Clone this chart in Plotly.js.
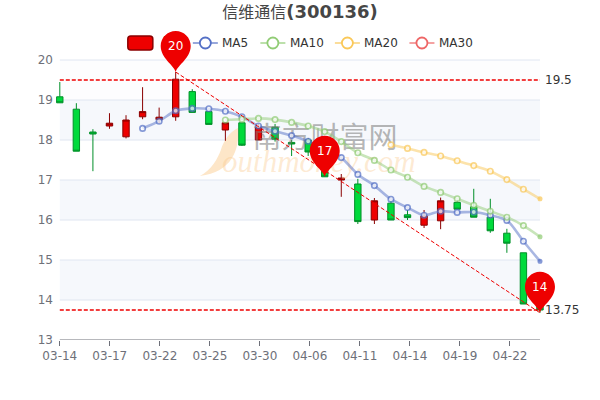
<!DOCTYPE html>
<html><head><meta charset="utf-8">
<script src="https://cdn.plot.ly/plotly-3.0.1.min.js"></script>
<style>html,body{margin:0;padding:0;background:#fff}</style></head>
<body><div id="c" style="width:600px;height:400px"></div>
<script>
const days=[...Array(30).keys()];
const openV =[19.08,18.77,18.20,18.35,18.08,18.58,18.51,18.58,19.21,18.71,18.25,18.43,18.00,18.32,17.94,18.00,17.60,17.00,16.90,16.00,16.42,16.13,15.87,15.98,16.44,16.33,16.07,15.67,15.18,13.95];
const closeV=[18.93,17.72,18.15,18.42,18.50,18.71,18.57,19.52,18.69,18.39,18.43,17.87,18.32,18.02,17.90,17.70,17.08,17.05,15.96,16.48,16.00,16.06,16.10,16.48,16.27,16.07,15.73,15.42,13.90,13.75];
const highV =[19.45,18.92,18.27,18.67,18.62,19.32,18.81,19.70,19.27,18.71,18.43,18.43,18.40,18.40,18.00,18.05,17.70,17.15,17.03,16.55,16.48,16.25,16.25,16.56,16.50,16.78,16.53,15.78,15.18,14.00];
const lowV  =[18.93,17.72,17.22,18.28,18.04,18.52,18.42,18.48,18.69,18.39,17.98,17.85,18.00,17.96,17.60,17.60,17.08,16.58,15.90,15.90,16.00,16.00,15.80,15.77,16.27,16.07,15.68,15.18,13.90,13.68];
const ma5 =[null,null,null,null,null,18.29,18.47,18.73,18.79,18.78,18.72,18.58,18.35,18.22,18.11,17.97,17.80,17.56,17.14,16.86,16.52,16.31,16.12,16.22,16.19,16.20,16.12,15.99,15.47,14.97];
const ma10=[null,null,null,null,null,null,null,null,null,null,18.50,18.52,18.54,18.51,18.44,18.35,18.21,17.96,17.68,17.49,17.25,17.07,16.84,16.69,16.53,16.37,16.22,16.07,15.86,15.58];
const ma20=[null,null,null,null,null,null,null,null,null,null,null,null,null,null,null,null,null,null,null,null,17.88,17.79,17.69,17.60,17.48,17.36,17.22,17.01,16.77,16.53];
const tickLabels=["03-14","03-17","03-22","03-25","03-30","04-06","04-11","04-14","04-19","04-22"];
const yTicks=[13,14,15,16,17,18,19,20];
const highLine=19.5, lowLine=13.75;
const pins=[{x:7,y:highV[7],t:"20"},{x:16,y:closeV[16],t:"17"},{x:29,y:lowV[29],t:"14"}];

const pxPerDay=480/29, pad=0.35;
const L=60-pad*pxPerDay, R=600, T=30;
const xd=px=>(px-60)/pxPerDay, yd=py=>20-(py-60)/40;
const shapes=[],ann=[];
[14,16,18].forEach(v=>shapes.push({type:'rect',layer:'below',xref:'x',yref:'y',x0:0,x1:29,y0:v,y1:v+1,fillcolor:'#f6f8fc',line:{width:0}}));
shapes.push({type:'rect',layer:'below',xref:'x',yref:'y',x0:0,x1:29,y0:19,y1:20,fillcolor:'#fdfdfe',line:{width:0}});
yTicks.filter(v=>v>13).forEach(v=>shapes.push({type:'line',layer:'below',xref:'x',yref:'y',x0:0,x1:29,y0:v,y1:v,line:{color:'#E0E6F1',width:1}}));
shapes.push({type:'line',xref:'x',yref:'y',x0:0,x1:29,y0:13,y1:13,line:{color:'#6E7079',width:1},layer:'below'});
// watermark swoosh
shapes.push({type:'path',layer:'below',xref:'x',yref:'y',path:`M ${xd(238)} ${yd(128)} C ${xd(240)} ${yd(150)} ${xd(232)} ${yd(172)} ${xd(200)} ${yd(176)} C ${xd(212)} ${yd(170)} ${xd(218)} ${yd(158)} ${xd(221)} ${yd(150)} C ${xd(224)} ${yd(140)} ${xd(230)} ${yd(132)} ${xd(238)} ${yd(128)} Z`,fillcolor:'#fde6c8',line:{width:0}});
// pins (pixel path, y up, anchored at the data point)
const pinPath='M 0 0 C -2 7 -15 14 -15 26 C -15 34.3 -8.3 41 0 41 C 8.3 41 15 34.3 15 26 C 15 14 2 7 0 0 Z';
pins.forEach(p=>{
 shapes.push({type:'path',layer:'above',xref:'x',yref:'y',xsizemode:'pixel',ysizemode:'pixel',xanchor:p.x,yanchor:p.y,path:pinPath,fillcolor:'#EE0000',line:{width:0}});
 ann.push({xref:'x',yref:'y',x:p.x,y:p.y,yshift:26,text:p.t,showarrow:false,font:{family:'DejaVu Sans',size:12,color:'#fff'}});
});
// legend
const pxX=x=>(x-L)/(R-L), pxY=y=>1-(y-T)/(340-T);
shapes.push({type:'path',xref:'paper',yref:'paper',path:`M ${pxX(131)} ${pxY(36)} L ${pxX(150)} ${pxY(36)} Q ${pxX(153)} ${pxY(36)} ${pxX(153)} ${pxY(39)} L ${pxX(153)} ${pxY(47)} Q ${pxX(153)} ${pxY(50)} ${pxX(150)} ${pxY(50)} L ${pxX(131)} ${pxY(50)} Q ${pxX(128)} ${pxY(50)} ${pxX(128)} ${pxY(47)} L ${pxX(128)} ${pxY(39)} Q ${pxX(128)} ${pxY(36)} ${pxX(131)} ${pxY(36)} Z`,fillcolor:'#EE0000',line:{color:'#8A0000',width:1.5},layer:'below'});
const legendItems=[["MA5",193,'#5470C6'],["MA10",260.5,'#91CC75'],["MA20",335,'#FAC858'],["MA30",409.5,'#EE6666']];
legendItems.forEach(([n,x,c])=>{
 shapes.push({type:'line',xref:'paper',yref:'paper',x0:pxX(x),x1:pxX(x+25),y0:pxY(43),y1:pxY(43),line:{color:c,width:2},opacity:.6});
 shapes.push({type:'circle',xref:'paper',yref:'paper',xsizemode:'pixel',ysizemode:'pixel',xanchor:pxX(x+12.5),yanchor:pxY(43),x0:-5.5,x1:5.5,y0:-5.5,y1:5.5,fillcolor:'#fff',line:{color:c,width:1.8}});
 ann.push({xref:'paper',yref:'paper',x:pxX(x+27.5),y:pxY(43),xanchor:'left',yanchor:'middle',showarrow:false,text:n,font:{family:'DejaVu Sans',size:12,color:'#333'}});
});
ann.push({xref:'x',yref:'y',x:29,y:highLine,xanchor:'left',xshift:3,showarrow:false,text:'19.5',font:{family:'DejaVu Sans',size:12,color:'#333'}});
ann.push({xref:'x',yref:'y',x:29,y:lowLine,xanchor:'left',xshift:3,showarrow:false,text:'13.75',font:{family:'DejaVu Sans',size:12,color:'#333'}});
const fade=(name,y,c)=>({type:'scatter',mode:'lines+markers',name,x:days,y,cliponaxis:false,
 line:{color:c+'80',width:2.6,shape:'spline',smoothing:.8},
 marker:{size:y.map((v,i)=>i===29?3.5:5.5),color:y.map((v,i)=>i===29?c:'#fff'),line:{color:c,width:1.6}},hoverinfo:'skip'});
const dash=(y0,y1,x0,x1,w)=>({type:'scatter',mode:'lines',x:[x0,x1],y:[y0,y1],line:{color:'#EE0000',width:w,dash:'4px,2px'},hoverinfo:'skip',cliponaxis:false,showlegend:false});
const data=[
 {type:'candlestick',x:days,open:openV,close:closeV,high:highV,low:lowV,whiskerwidth:0,
  increasing:{fillcolor:'#EE0000',line:{color:'#8A0000',width:1}},
  decreasing:{fillcolor:'#00DA3C',line:{color:'#008F28',width:1}},hoverinfo:'skip'},
 {type:'scatter',mode:'text',x:[xd(325)],y:[yd(141)],text:['南方财富网'],textposition:'middle center',textfont:{family:'Noto Sans CJK SC',size:29,color:'rgba(120,120,120,0.55)'},hoverinfo:'skip'},
 {type:'scatter',mode:'text',x:[xd(319)],y:[yd(164)],text:['<i>outhmoney.com</i>'],textposition:'middle center',textfont:{family:'Liberation Serif',size:31,color:'rgba(250,200,140,0.38)'},hoverinfo:'skip'},
 {type:'scatter',mode:'text',x:[xd(172)],y:[yd(43)],text:['日K'],textposition:'middle center',textfont:{family:'Noto Sans CJK SC',size:12,color:'#333'},hoverinfo:'skip'},
 fade('MA5',ma5,'#5470C6'),fade('MA10',ma10,'#91CC75'),fade('MA20',ma20,'#FAC858'),
 dash(highLine,highLine,0,29,1.3),dash(lowLine,lowLine,0,29,1.3),
 dash(highV[7],lowV[29],7,29,1)
];
const layout={width:600,height:400,showlegend:false,paper_bgcolor:'#fff',plot_bgcolor:'#fff',
 margin:{l:L,r:0,t:T,b:60,pad:0},
 title:{text:'<span style="font-size:16px">信维通信</span><b>(300136)</b>',x:0.5,xanchor:'center',y:0.97,yanchor:'middle',font:{family:'DejaVu Sans, Noto Sans CJK SC',size:18,color:'#464646'}},
 xaxis:{type:'linear',range:[-pad,xd(R)],tickmode:'array',tickvals:tickLabels.map((_,i)=>i*50/pxPerDay),ticktext:tickLabels,
  ticks:'outside',ticklen:5,tickcolor:'#6E7079',tickwidth:1,showgrid:false,zeroline:false,showline:false,
  tickfont:{family:'DejaVu Sans',size:12,color:'#6E7079'},rangeslider:{visible:false},fixedrange:true},
 yaxis:{range:[13,yd(T)],tickmode:'array',tickvals:yTicks,ticks:'',showgrid:false,zeroline:false,showline:false,
  tickfont:{family:'DejaVu Sans',size:12,color:'#6E7079'},fixedrange:true},
 boxgap:0.45,shapes,annotations:ann,hovermode:false};
Plotly.newPlot('c',data,layout,{displayModeBar:false,staticPlot:true});
</script></body></html>
